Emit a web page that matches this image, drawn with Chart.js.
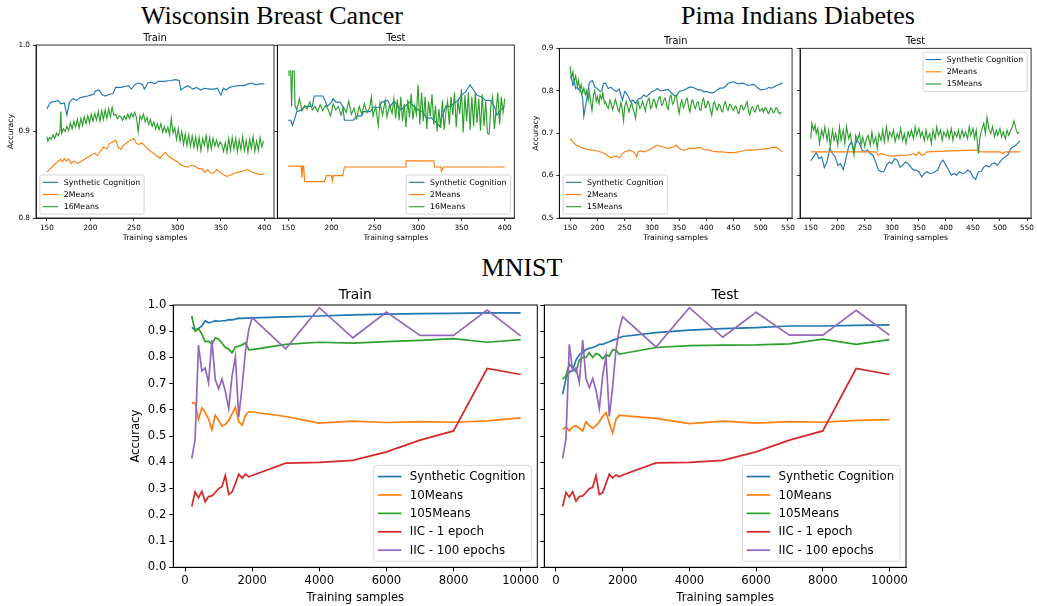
<!DOCTYPE html>
<html>
<head>
<meta charset="utf-8">
<script src="https://cdn.jsdelivr.net/npm/chart.js@4.4.1/dist/chart.umd.min.js"></script>
<style>
body { margin: 0; background: #fff; width: 1037px; height: 606px; overflow: hidden; position: relative; }
canvas { position: absolute; }
.big { position: absolute; font-family: "Liberation Serif", serif; font-size: 26px; line-height: 26px; width: 400px; text-align: center; color: #000; }
</style>
</head>
<body>
<div class="big" style="left:72px;top:3px">Wisconsin Breast Cancer</div>
<div class="big" style="left:598px;top:3px">Pima Indians Diabetes</div>
<div class="big" style="left:322px;top:255px">MNIST</div>
<canvas id="wbcTrain"></canvas>
<canvas id="wbcTest"></canvas>
<canvas id="pimaTrain"></canvas>
<canvas id="pimaTest"></canvas>
<canvas id="mnistTrain"></canvas>
<canvas id="mnistTest"></canvas>
<script>
// ---- tick labels ----
const wbcXTicks = [150, 200, 250, 300, 350, 400];
const wbcYTicks = [0.8, 0.9, 1.0];
const pimaXTicks = [150, 200, 250, 300, 350, 400, 450, 500, 550];
const pimaYTicks = [0.5, 0.6, 0.7, 0.8, 0.9];
const mnistXTicks = [0, 2000, 4000, 6000, 8000, 10000];
const mnistYTicks = [0, 0.1, 0.2, 0.3, 0.4, 0.5, 0.6, 0.7, 0.8, 0.9, 1.0];

// ---- Wisconsin Breast Cancer, [training samples, accuracy] ----
const wbcTrainSyn = [[150,0.926],[153,0.932],[155,0.934],[160,0.935],[163,0.936],[166,0.932],[170,0.933],[173,0.919],[176,0.934],[180,0.938],
  [184,0.936],[188,0.939],[192,0.940],[197,0.941],[200,0.942],[204,0.943],[206,0.947],[210,0.948],[213,0.943],[217,0.941],
  [222,0.943],[226,0.944],[229,0.951],[235,0.951],[240,0.952],[244,0.953],[247,0.949],[252,0.955],[256,0.956],[260,0.954],
  [262,0.949],[266,0.956],[270,0.957],[274,0.955],[278,0.958],[285,0.958],[292,0.959],[298,0.960],[302,0.959],[304,0.948],
  [308,0.951],[312,0.953],[318,0.949],[322,0.951],[327,0.948],[331,0.950],[337,0.949],[342,0.949],[346,0.950],[350,0.942],
  [353,0.950],[356,0.948],[360,0.951],[364,0.952],[370,0.953],[376,0.953],[382,0.955],[386,0.956],[390,0.954],[395,0.955],[400,0.955]];
const wbcTrain2Means = [[150,0.853],[155,0.858],[160,0.863],[163,0.866],[166,0.868],[168,0.865],[170,0.869],[172,0.866],[175,0.868],[178,0.863],
  [181,0.866],[185,0.863],[190,0.866],[195,0.869],[200,0.872],[205,0.875],[208,0.872],[212,0.878],[215,0.882],[219,0.880],
  [222,0.886],[226,0.888],[229,0.890],[232,0.882],[235,0.879],[238,0.884],[242,0.887],[246,0.890],[250,0.892],[253,0.886],
  [256,0.885],[259,0.887],[262,0.884],[265,0.881],[268,0.878],[272,0.875],[276,0.872],[280,0.869],[283,0.873],[286,0.876],
  [290,0.871],[295,0.868],[300,0.865],[303,0.862],[307,0.860],[312,0.859],[316,0.861],[320,0.860],[324,0.857],[328,0.857],
  [331,0.853],[335,0.856],[338,0.852],[342,0.852],[345,0.856],[349,0.853],[353,0.850],[357,0.848],[362,0.850],[366,0.852],
  [370,0.853],[375,0.854],[380,0.856],[384,0.854],[388,0.852],[392,0.851],[396,0.850],[400,0.851]];
const wbcTrain16Means = [[150,0.894],[151,0.889],[153,0.893],[155,0.891],[157,0.896],[159,0.892],[161,0.898],[163,0.895],[165,0.900],[166,0.923],
  [167,0.898],[169,0.903],[171,0.900],[173,0.906],[175,0.901],[177,0.910],[179,0.903],[181,0.912],[183,0.905],[185,0.914],
  [187,0.904],[189,0.915],[191,0.907],[193,0.917],[195,0.909],[197,0.918],[199,0.910],[201,0.920],[203,0.912],[205,0.921],
  [207,0.913],[209,0.923],[211,0.912],[213,0.924],[215,0.914],[217,0.925],[219,0.915],[221,0.926],[223,0.917],[225,0.928],
  [227,0.919],[229,0.920],[231,0.915],[233,0.918],[235,0.917],[237,0.913],[239,0.918],[241,0.914],[243,0.920],[245,0.915],
  [247,0.921],[249,0.917],[251,0.922],[253,0.916],[255,0.900],[257,0.918],[259,0.914],[261,0.920],[263,0.911],[265,0.916],
  [267,0.908],[269,0.914],[271,0.906],[273,0.911],[275,0.903],[277,0.909],[279,0.902],[281,0.909],[283,0.899],[285,0.906],
  [287,0.899],[289,0.905],[291,0.896],[293,0.915],[295,0.898],[297,0.904],[299,0.891],[301,0.903],[303,0.889],[305,0.900],
  [307,0.885],[309,0.897],[311,0.884],[313,0.896],[315,0.883],[317,0.895],[319,0.882],[321,0.894],[323,0.880],[325,0.893],
  [327,0.878],[329,0.892],[331,0.884],[333,0.895],[335,0.879],[337,0.893],[339,0.880],[341,0.892],[343,0.883],[345,0.890],
  [347,0.882],[349,0.888],[351,0.885],[353,0.877],[355,0.887],[357,0.876],[359,0.892],[361,0.878],[363,0.893],[365,0.880],
  [367,0.892],[369,0.877],[371,0.890],[373,0.879],[375,0.894],[377,0.878],[379,0.890],[381,0.876],[383,0.891],[385,0.880],
  [387,0.894],[389,0.877],[391,0.889],[393,0.878],[395,0.893],[397,0.882],[399,0.889]];

const wbcTestSyn = [[150,0.913],[153,0.913],[155,0.907],[157,0.913],[160,0.923],[165,0.925],[170,0.929],[178,0.929],[180,0.941],[190,0.941],
  [193,0.935],[195,0.929],[200,0.934],[202,0.938],[205,0.934],[210,0.934],[213,0.929],[215,0.913],[225,0.913],[230,0.918],
  [235,0.918],[237,0.923],[245,0.923],[248,0.928],[255,0.928],[258,0.934],[265,0.936],[268,0.929],[272,0.935],[276,0.931],
  [280,0.925],[285,0.929],[290,0.934],[295,0.929],[300,0.925],[305,0.923],[310,0.915],[315,0.916],[320,0.911],[325,0.906],
  [328,0.918],[332,0.929],[337,0.929],[342,0.933],[346,0.936],[350,0.942],[355,0.946],[360,0.954],[364,0.948],[368,0.942],
  [373,0.940],[378,0.936],[383,0.936],[388,0.929],[391,0.919],[395,0.925],[400,0.929]];
const wbcTest2Means = [[150,0.860],[165,0.860],[166,0.847],[167,0.860],[168,0.860],[169,0.842],[192,0.842],[194,0.849],[200,0.849],[201,0.843],
  [202,0.849],[213,0.849],[215,0.859],[285,0.859],[286,0.866],[318,0.866],[319,0.859],[326,0.859],[327,0.854],[329,0.859],[400,0.859]];
const wbcTest16Means = [[150,0.965],[151,0.970],[153,0.970],[154,0.929],[155,0.970],[157,0.970],[158,0.930],[160,0.925],[163,0.938],[166,0.924],
  [169,0.930],[172,0.926],[175,0.934],[178,0.925],[181,0.929],[184,0.923],[187,0.931],[190,0.924],[193,0.930],[196,0.926],
  [199,0.918],[202,0.932],[205,0.925],[208,0.929],[211,0.919],[214,0.928],[217,0.922],[220,0.935],[223,0.920],[226,0.927],
  [229,0.915],[232,0.929],[235,0.920],[238,0.932],[241,0.922],[244,0.927],[246,0.940],[248,0.918],[251,0.929],[254,0.907],
  [256,0.933],[259,0.919],[262,0.936],[264,0.917],[267,0.930],[270,0.921],[272,0.938],[274,0.915],[276,0.937],[278,0.913],
  [280,0.940],[282,0.912],[284,0.932],[286,0.905],[288,0.937],[290,0.916],[292,0.944],[294,0.914],[296,0.930],[298,0.920],
  [300,0.954],[302,0.908],[304,0.945],[306,0.912],[308,0.940],[310,0.903],[312,0.935],[314,0.918],[316,0.943],[318,0.908],
  [320,0.930],[322,0.900],[324,0.926],[326,0.904],[328,0.936],[330,0.902],[332,0.922],[334,0.935],[336,0.908],[338,0.940],
  [340,0.919],[342,0.945],[344,0.905],[346,0.936],[348,0.920],[350,0.949],[352,0.899],[354,0.942],[356,0.912],[358,0.945],
  [360,0.902],[362,0.940],[364,0.906],[366,0.945],[368,0.910],[370,0.938],[372,0.901],[374,0.943],[376,0.906],[378,0.935],
  [380,0.898],[382,0.897],[384,0.930],[386,0.940],[388,0.903],[390,0.925],[392,0.945],[394,0.908],[396,0.940],[398,0.922],[400,0.938]];

// ---- Pima Indians Diabetes ----
const pimaTrainSyn = [[150,0.833],[153,0.828],[155,0.813],[158,0.820],[160,0.805],[163,0.808],[166,0.802],[170,0.798],[173,0.780],[175,0.740],
  [178,0.762],[181,0.785],[185,0.817],[188,0.822],[191,0.824],[195,0.809],[200,0.805],[205,0.798],[208,0.800],[211,0.817],
  [215,0.818],[220,0.805],[225,0.808],[230,0.802],[235,0.798],[240,0.804],[243,0.790],[246,0.778],[250,0.798],[253,0.795],
  [257,0.786],[261,0.774],[265,0.778],[270,0.770],[275,0.781],[280,0.782],[285,0.790],[290,0.786],[295,0.792],[300,0.798],
  [305,0.800],[310,0.805],[315,0.800],[320,0.800],[325,0.802],[330,0.803],[335,0.796],[340,0.790],[345,0.787],[350,0.798],
  [355,0.800],[360,0.802],[365,0.806],[370,0.809],[375,0.808],[380,0.805],[385,0.802],[390,0.802],[395,0.798],[400,0.798],
  [405,0.796],[410,0.795],[415,0.797],[420,0.802],[425,0.806],[430,0.806],[435,0.810],[440,0.817],[445,0.820],[450,0.821],
  [455,0.818],[460,0.816],[465,0.818],[470,0.817],[475,0.813],[480,0.813],[485,0.815],[490,0.813],[495,0.806],[500,0.802],
  [505,0.803],[510,0.804],[515,0.808],[520,0.806],[525,0.810],[530,0.813],[535,0.815],[540,0.819]];
const pimaTrain2Means = [[150,0.687],[153,0.683],[155,0.680],[158,0.676],[160,0.672],[165,0.670],[170,0.666],[175,0.664],[180,0.662],[185,0.661],
  [190,0.660],[195,0.659],[200,0.658],[205,0.656],[210,0.654],[215,0.650],[220,0.646],[225,0.642],[230,0.645],[235,0.646],
  [240,0.642],[245,0.650],[250,0.656],[255,0.658],[260,0.660],[265,0.657],[270,0.650],[272,0.644],[275,0.656],[280,0.658],
  [285,0.656],[290,0.658],[295,0.661],[300,0.664],[305,0.668],[310,0.672],[315,0.669],[320,0.668],[325,0.665],[330,0.664],
  [335,0.666],[340,0.668],[345,0.672],[350,0.664],[355,0.661],[360,0.660],[365,0.662],[370,0.664],[375,0.664],[380,0.664],
  [385,0.666],[390,0.666],[395,0.662],[400,0.661],[405,0.660],[410,0.658],[415,0.657],[420,0.656],[425,0.656],[430,0.656],
  [435,0.655],[440,0.654],[445,0.654],[450,0.654],[455,0.655],[460,0.656],[465,0.658],[470,0.659],[475,0.660],[480,0.660],
  [485,0.660],[490,0.661],[495,0.662],[500,0.662],[505,0.663],[510,0.663],[515,0.664],[520,0.666],[525,0.667],[530,0.666],
  [535,0.660],[540,0.656]];
const pimaTrain15Means = [[150,0.857],[152,0.829],[155,0.845],[157,0.820],[160,0.835],[163,0.810],[165,0.825],[168,0.800],[170,0.815],[173,0.795],
  [175,0.806],[178,0.790],[180,0.800],[183,0.778],[185,0.798],[188,0.770],[190,0.754],[193,0.792],[195,0.800],[198,0.775],
  [200,0.786],[203,0.770],[205,0.790],[208,0.780],[210,0.795],[213,0.770],[215,0.774],[218,0.762],[220,0.758],[223,0.778],
  [225,0.770],[228,0.755],[230,0.765],[233,0.780],[235,0.770],[238,0.755],[240,0.750],[243,0.772],[245,0.760],[248,0.729],
  [250,0.762],[253,0.775],[255,0.765],[258,0.750],[260,0.760],[263,0.772],[265,0.758],[268,0.748],[270,0.735],[273,0.770],
  [275,0.774],[278,0.758],[280,0.762],[283,0.775],[285,0.766],[288,0.752],[290,0.768],[293,0.778],[295,0.782],[298,0.758],
  [300,0.762],[303,0.780],[305,0.778],[308,0.760],[310,0.770],[313,0.785],[315,0.786],[318,0.765],[320,0.768],[323,0.782],
  [325,0.782],[328,0.760],[330,0.756],[333,0.785],[335,0.790],[338,0.768],[340,0.772],[343,0.788],[345,0.790],[348,0.762],
  [350,0.746],[353,0.770],[355,0.778],[358,0.760],[360,0.766],[363,0.780],[365,0.782],[368,0.758],[370,0.750],[373,0.775],
  [375,0.778],[378,0.762],[380,0.758],[383,0.772],[385,0.774],[388,0.755],[390,0.754],[393,0.778],[395,0.782],[398,0.760],
  [400,0.762],[403,0.775],[405,0.770],[408,0.752],[410,0.742],[413,0.770],[415,0.774],[418,0.760],[420,0.754],[423,0.768],
  [425,0.766],[428,0.752],[430,0.750],[433,0.770],[435,0.774],[438,0.758],[440,0.754],[443,0.768],[445,0.766],[448,0.756],
  [450,0.754],[453,0.764],[455,0.762],[458,0.748],[460,0.746],[463,0.765],[465,0.766],[468,0.755],[470,0.758],[473,0.768],
  [475,0.774],[478,0.748],[480,0.743],[483,0.760],[485,0.762],[488,0.752],[490,0.750],[493,0.764],[495,0.766],[498,0.752],
  [500,0.754],[503,0.758],[505,0.750],[508,0.760],[510,0.758],[513,0.748],[515,0.746],[518,0.760],[520,0.758],[523,0.748],
  [525,0.750],[528,0.760],[530,0.758],[533,0.748],[535,0.746],[538,0.750]];

const pimaTestSyn = [[150,0.635],[155,0.644],[160,0.654],[165,0.640],[170,0.644],[175,0.619],[180,0.632],[185,0.664],[190,0.652],[195,0.644],
  [200,0.624],[205,0.628],[210,0.614],[215,0.640],[220,0.668],[225,0.680],[230,0.660],[235,0.683],[240,0.676],[245,0.660],
  [250,0.656],[255,0.660],[260,0.652],[265,0.648],[270,0.632],[275,0.613],[280,0.609],[285,0.609],[290,0.624],[295,0.632],
  [300,0.628],[305,0.640],[310,0.636],[315,0.620],[320,0.624],[325,0.632],[330,0.628],[335,0.620],[340,0.613],[345,0.613],
  [350,0.609],[355,0.597],[360,0.605],[365,0.609],[370,0.605],[375,0.606],[380,0.609],[385,0.613],[390,0.630],[395,0.636],
  [400,0.624],[405,0.613],[410,0.601],[415,0.605],[420,0.601],[425,0.609],[430,0.605],[435,0.606],[440,0.613],[445,0.609],
  [450,0.597],[455,0.591],[460,0.609],[465,0.609],[470,0.620],[475,0.624],[480,0.620],[485,0.628],[490,0.630],[495,0.624],
  [500,0.632],[505,0.640],[510,0.644],[515,0.650],[520,0.664],[525,0.668],[530,0.672],[535,0.680],[537,0.682]];
const pimaTest2Means = [[150,0.656],[270,0.656],[275,0.648],[280,0.652],[290,0.648],[300,0.646],[320,0.648],[330,0.648],[340,0.652],[345,0.648],
  [350,0.656],[355,0.648],[360,0.650],[365,0.656],[445,0.660],[460,0.660],[462,0.656],[500,0.656],[505,0.652],[510,0.656],[537,0.656]];
const pimaTest15Means = [[150,0.687],[152,0.723],[155,0.707],[158,0.719],[160,0.699],[163,0.711],[166,0.676],[170,0.707],[173,0.691],[176,0.715],
  [180,0.683],[183,0.707],[186,0.668],[190,0.707],[193,0.683],[196,0.699],[200,0.672],[203,0.715],[206,0.683],[210,0.707],
  [213,0.676],[216,0.715],[220,0.687],[223,0.699],[226,0.676],[230,0.648],[233,0.695],[236,0.683],[240,0.699],[243,0.672],
  [246,0.691],[250,0.668],[253,0.687],[256,0.695],[260,0.672],[263,0.703],[266,0.676],[270,0.691],[273,0.664],[276,0.699],
  [280,0.683],[283,0.707],[286,0.680],[290,0.715],[293,0.683],[296,0.703],[300,0.691],[303,0.707],[306,0.680],[310,0.699],
  [313,0.687],[316,0.711],[320,0.683],[323,0.699],[326,0.676],[330,0.703],[333,0.691],[336,0.707],[340,0.687],[343,0.715],
  [346,0.695],[350,0.711],[353,0.691],[356,0.703],[360,0.683],[363,0.707],[366,0.687],[370,0.699],[373,0.676],[376,0.707],
  [380,0.687],[383,0.715],[386,0.695],[390,0.707],[393,0.683],[396,0.703],[400,0.691],[403,0.707],[406,0.687],[410,0.711],
  [413,0.683],[416,0.703],[420,0.691],[423,0.707],[426,0.687],[430,0.707],[433,0.691],[436,0.703],[440,0.687],[443,0.715],
  [446,0.695],[450,0.711],[453,0.687],[456,0.707],[460,0.652],[463,0.691],[466,0.707],[470,0.723],[473,0.699],[476,0.737],
  [480,0.707],[483,0.699],[486,0.715],[490,0.691],[493,0.707],[496,0.695],[500,0.711],[503,0.691],[506,0.703],[510,0.687],
  [513,0.707],[516,0.695],[520,0.707],[523,0.715],[526,0.729],[530,0.707],[533,0.699],[536,0.703]];

// ---- MNIST ----
const mnistX = [200, 300, 400, 500, 600, 700, 800, 900, 1000, 1100, 1200, 1300, 1400, 1500, 1600, 1700, 1800, 1900, 2000,
  3000, 4000, 5000, 6000, 7000, 8000, 9000, 10000];
const mnistTrainSyn = [0.915,0.905,0.91,0.92,0.94,0.932,0.935,0.94,0.938,0.94,0.94,0.944,0.943,0.946,0.95,0.949,0.95,0.95,0.951,
  0.955,0.958,0.962,0.965,0.967,0.968,0.97,0.97];
const mnistTrain10 = [0.627,0.627,0.565,0.608,0.59,0.565,0.524,0.58,0.56,0.538,0.545,0.56,0.585,0.61,0.555,0.542,0.58,0.593,0.592,
  0.575,0.55,0.557,0.552,0.555,0.553,0.558,0.57];
const mnistTrain105 = [0.958,0.9,0.91,0.89,0.86,0.862,0.85,0.875,0.87,0.855,0.838,0.832,0.818,0.84,0.843,0.848,0.855,0.83,0.83,
  0.85,0.858,0.855,0.86,0.865,0.872,0.858,0.868];
const mnistTrainIic1 = [0.232,0.288,0.265,0.29,0.25,0.27,0.272,0.285,0.3,0.307,0.35,0.278,0.287,0.32,0.355,0.34,0.355,0.345,0.35,
  0.397,0.4,0.408,0.44,0.485,0.52,0.758,0.735];
const mnistTrainIic100 = [0.414,0.487,0.847,0.748,0.76,0.703,0.865,0.716,0.68,0.718,0.671,0.605,0.729,0.803,0.572,0.69,0.824,0.907,0.952,
  0.833,0.99,0.875,0.973,0.884,0.884,0.981,0.882];
const mnistTestSyn = [0.659,0.72,0.745,0.75,0.79,0.81,0.82,0.83,0.835,0.838,0.843,0.85,0.85,0.855,0.86,0.865,0.87,0.875,0.88,
  0.895,0.904,0.91,0.914,0.92,0.92,0.922,0.924];
const mnistTest10 = [0.525,0.535,0.52,0.535,0.54,0.53,0.52,0.555,0.54,0.53,0.54,0.555,0.575,0.59,0.55,0.512,0.565,0.58,0.578,
  0.568,0.548,0.557,0.55,0.555,0.553,0.56,0.563];
const mnistTest105 = [0.717,0.73,0.775,0.76,0.745,0.79,0.8,0.8,0.818,0.8,0.815,0.81,0.795,0.81,0.805,0.83,0.828,0.812,0.815,
  0.838,0.845,0.847,0.848,0.852,0.87,0.85,0.868];
const mnistTestIic1 = [0.232,0.285,0.268,0.288,0.252,0.27,0.272,0.285,0.3,0.305,0.35,0.278,0.285,0.32,0.355,0.34,0.352,0.345,0.352,
  0.398,0.4,0.408,0.44,0.485,0.52,0.758,0.735];
const mnistTestIic100 = [0.415,0.49,0.85,0.75,0.76,0.705,0.866,0.72,0.685,0.72,0.675,0.605,0.73,0.805,0.575,0.69,0.83,0.91,0.955,
  0.84,0.99,0.877,0.972,0.885,0.885,0.98,0.885];

const BLUE = '#1f77b4', ORANGE = '#ff7f0e', GREEN = '#2ca02c', RED = '#d62728', PURPLE = '#9467bd';
const FONT = '"DejaVu Sans", sans-serif';

const pairs = p => p.map(([x, y]) => ({x, y}));
const zipX = ys => ys.map((y, i) => ({x: mnistX[i], y}));

// top and right spines (matplotlib box)
const framePlugin = {
  id: 'frame',
  afterDatasetsDraw(chart, args, o) {
    const a = chart.chartArea, ctx = chart.ctx;
    ctx.save();
    ctx.strokeStyle = '#000';
    ctx.lineWidth = o.width;
    ctx.strokeRect(a.left, a.top, a.right - a.left, a.bottom - a.top);
    ctx.restore();
  }
};

const titlePlugin = {
  id: 'panelTitle',
  afterDraw(chart, args, o) {
    const a = chart.chartArea, ctx = chart.ctx;
    ctx.save();
    ctx.font = o.size + 'px ' + FONT;
    ctx.fillStyle = '#000';
    ctx.textAlign = 'center';
    ctx.textBaseline = 'alphabetic';
    ctx.fillText(o.text, (a.left + a.right) / 2, a.top - o.offset);
    ctx.restore();
  }
};

// legend drawn inside the axes like matplotlib's
const legendPlugin = {
  id: 'mplLegend',
  afterDraw(chart, args, o) {
    const a = chart.chartArea, ctx = chart.ctx, fs = o.size;
    const sets = chart.data.datasets;
    ctx.save();
    ctx.font = fs + 'px ' + FONT;
    const tw = Math.max(...sets.map(d => ctx.measureText(d.label).width));
    const w = 3.55 * fs + tw, step = 1.56 * fs, h = 1.9 * fs + (sets.length - 1) * step;
    const gap = 0.5 * fs;
    const x = o.loc.includes('left') ? a.left + gap : a.right - gap - w;
    const y = o.loc.includes('upper') ? a.top + gap : a.bottom - gap - h;
    const r = 0.25 * fs;
    ctx.beginPath();
    ctx.moveTo(x + r, y);
    ctx.arcTo(x + w, y, x + w, y + h, r);
    ctx.arcTo(x + w, y + h, x, y + h, r);
    ctx.arcTo(x, y + h, x, y, r);
    ctx.arcTo(x, y, x + w, y, r);
    ctx.closePath();
    ctx.fillStyle = 'rgba(255,255,255,0.8)';
    ctx.fill();
    ctx.strokeStyle = '#d6d6d6';
    ctx.lineWidth = 1;
    ctx.stroke();
    ctx.textBaseline = 'middle';
    ctx.textAlign = 'left';
    sets.forEach((d, i) => {
      const cy = y + 0.95 * fs + i * step;
      ctx.strokeStyle = d.borderColor;
      ctx.lineWidth = d.borderWidth;
      ctx.beginPath();
      ctx.moveTo(x + 0.35 * fs, cy);
      ctx.lineTo(x + 2.35 * fs, cy);
      ctx.stroke();
      ctx.fillStyle = '#000';
      ctx.fillText(d.label, x + 3.05 * fs, cy + 0.5);
    });
    ctx.restore();
  }
};

function makePanel(id, rect, o) {
  const [L, T, R, B] = rect;
  const left = Math.round(L - o.yW), top = Math.round(T - o.top);
  const width = Math.ceil(R + o.right) - left, height = Math.round(B + o.xH) - top;
  const cv = document.getElementById(id);
  cv.width = width;
  cv.height = height;
  Object.assign(cv.style, {left: left + 'px', top: top + 'px', width: width + 'px', height: height + 'px'});
  const yW = L - left, xH = top + height - B;
  const tickFont = {family: FONT, size: o.tickSize};
  const labFont = {family: FONT, size: o.labSize};
  const grid = {drawOnChartArea: false, drawTicks: true, tickLength: o.tickLen, tickColor: '#000', tickWidth: o.spine};
  const n = o.series.length;
  return new Chart(cv, {
    type: 'line',
    data: {
      datasets: o.series.map((s, i) => ({
        label: s.label, data: s.data, borderColor: s.color, backgroundColor: s.color,
        borderWidth: o.lw, pointRadius: 0, tension: 0, fill: false, order: n - i
      }))
    },
    options: {
      responsive: false, animation: false, devicePixelRatio: 1, events: [],
      layout: {padding: {left: 0, top: T - top, right: left + width - R, bottom: 0}},
      plugins: {
        legend: {display: false}, tooltip: {enabled: false},
        frame: {width: o.spine},
        panelTitle: {text: o.title, size: o.titleSize, offset: o.titleOffset},
        mplLegend: {loc: o.legendLoc, size: o.legSize}
      },
      scales: {
        x: {
          type: 'linear', min: o.xMin, max: o.xMax,
          afterBuildTicks: s => { s.ticks = o.xTicks.map(v => ({value: v})); },
          afterFit: s => { s.height = xH; },
          ticks: {font: tickFont, color: '#000', padding: o.tickPad, maxRotation: 0, autoSkip: false, callback: v => String(v)},
          grid: grid,
          border: {color: '#000', width: o.spine},
          title: {display: true, text: 'Training samples', font: labFont, color: '#000', padding: 0}
        },
        y: {
          type: 'linear', min: o.yMin, max: o.yMax,
          afterBuildTicks: s => { s.ticks = o.yTicks.map(v => ({value: v})); },
          afterFit: s => { s.width = yW; },
          ticks: {display: o.yLabels, font: tickFont, color: '#000', padding: o.tickPad, callback: v => v.toFixed(1)},
          grid: grid,
          border: {color: '#000', width: o.spine},
          title: {display: o.yLabels, text: 'Accuracy', font: labFont, color: '#000', padding: 0}
        }
      }
    },
    plugins: [framePlugin, titlePlugin, legendPlugin]
  });
}

const small = {tickSize: 7.3, labSize: 7.7, legSize: 7.8, titleSize: 9.8, titleOffset: 4, tickLen: 3, tickPad: 3, spine: 0.8, lw: 1.15,
  top: 16, xH: 25, right: 3};
const large = {tickSize: 11.6, labSize: 11.6, legSize: 11.8, titleSize: 13.8, titleOffset: 6.5, tickLen: 4, tickPad: 3, spine: 1, lw: 1.7,
  top: 24, xH: 37.9, right: 6};

const wbcSeries = (syn, two, sixteen) => [
  {label: 'Synthetic Cognition', color: BLUE, data: pairs(syn)},
  {label: '2Means', color: ORANGE, data: pairs(two)},
  {label: '16Means', color: GREEN, data: pairs(sixteen)}
];
const pimaSeries = (syn, two, fifteen) => [
  {label: 'Synthetic Cognition', color: BLUE, data: pairs(syn)},
  {label: '2Means', color: ORANGE, data: pairs(two)},
  {label: '15Means', color: GREEN, data: pairs(fifteen)}
];
const mnistSeries = (syn, k10, k105, iic1, iic100) => [
  {label: 'Synthetic Cognition', color: BLUE, data: zipX(syn)},
  {label: '10Means', color: ORANGE, data: zipX(k10)},
  {label: '105Means', color: GREEN, data: zipX(k105)},
  {label: 'IIC - 1 epoch', color: RED, data: zipX(iic1)},
  {label: 'IIC - 100 epochs', color: PURPLE, data: zipX(iic100)}
];

const wbcAxes = {xMin: 137.5, xMax: 411, xTicks: wbcXTicks, yMin: 0.8, yMax: 1.0, yTicks: wbcYTicks};
const pimaAxes = {xMin: 130, xMax: 557.5, xTicks: pimaXTicks, yMin: 0.5, yMax: 0.9, yTicks: pimaYTicks};
const mnistAxes = {xMin: -350, xMax: 10495, xTicks: mnistXTicks, yMin: 0, yMax: 1.0, yTicks: mnistYTicks};

makePanel('wbcTrain', [36, 45, 274, 218], Object.assign({}, small, wbcAxes, {
  yW: 29.8, yLabels: true, title: 'Train', legendLoc: 'lower left',
  series: wbcSeries(wbcTrainSyn, wbcTrain2Means, wbcTrain16Means)}));
makePanel('wbcTest', [277.3, 45, 514.3, 218], Object.assign({}, small, wbcAxes, {
  yW: 5, yLabels: false, title: 'Test', legendLoc: 'lower right',
  series: wbcSeries(wbcTestSyn, wbcTest2Means, wbcTest16Means)}));
makePanel('pimaTrain', [559.3, 48.3, 795, 218], Object.assign({}, small, pimaAxes, {
  yW: 28.8, yLabels: true, title: 'Train', legendLoc: 'lower left',
  series: pimaSeries(pimaTrainSyn, pimaTrain2Means, pimaTrain15Means)}));
makePanel('pimaTest', [800, 48.3, 1036.3, 218], Object.assign({}, small, pimaAxes, {
  yW: 5, yLabels: false, title: 'Test', legendLoc: 'upper right', right: 0.5,
  series: pimaSeries(pimaTestSyn, pimaTest2Means, pimaTest15Means)}));
makePanel('mnistTrain', [173.3, 305, 537.3, 567.3], Object.assign({}, large, mnistAxes, {
  yW: 44.2, yLabels: true, title: 'Train', legendLoc: 'lower right',
  series: mnistSeries(mnistTrainSyn, mnistTrain10, mnistTrain105, mnistTrainIic1, mnistTrainIic100)}));
makePanel('mnistTest', [544.3, 305, 906, 567.3], Object.assign({}, large, mnistAxes, {
  yW: 5, yLabels: false, title: 'Test', legendLoc: 'lower right',
  series: mnistSeries(mnistTestSyn, mnistTest10, mnistTest105, mnistTestIic1, mnistTestIic100)}));
</script>
</body>
</html>
